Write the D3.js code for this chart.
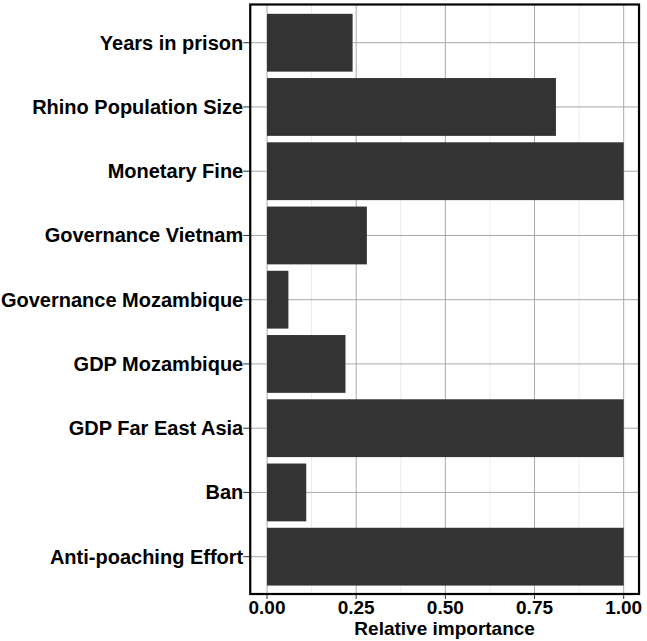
<!DOCTYPE html>
<html>
<head>
<meta charset="utf-8">
<script src="https://cdn.jsdelivr.net/npm/d3@7"></script>
<style>
  body { margin: 0; background: #fff; }
  svg { display: block; }
</style>
</head>
<body>
<div id="chart"></div>
<script>
var w = 647;
var h = 641;

var factors = ["Years in prison", "Rhino Population Size", "Monetary Fine", "Governance Vietnam",
               "Governance Mozambique", "GDP Mozambique", "GDP Far East Asia", "Ban", "Anti-poaching Effort"];
var importance = [0.24, 0.81, 1.00, 0.28, 0.06, 0.22, 1.00, 0.11, 1.00];
var xTicks = [0, 0.25, 0.5, 0.75, 1.0];
var xMinor = [0.125, 0.375, 0.625, 0.875];

var font = "Arial, 'Liberation Sans', sans-serif";

var x = d3.scaleLinear().domain([0, 1]).range([267, 623.7]);
var y = d3.scaleBand().domain(factors).range([10.6, 588.8]).paddingInner(0.1).paddingOuter(0.05);

// panel edges (note: "top" clashes with window.top)
var pLeft = x(-0.047), pRight = x(1.043);
var pTop = 4.5, pBottom = 594;

var svg = d3.select("#chart")
            .append("svg")
            .attr("width", w)
            .attr("height", h);

// minor grid
svg.selectAll("line.minor")
   .data(xMinor)
   .enter()
   .append("line")
   .attr("x1", function(d) { return x(d); })
   .attr("x2", function(d) { return x(d); })
   .attr("y1", pTop)
   .attr("y2", pBottom)
   .attr("stroke", "#ebebeb")
   .attr("stroke-width", 1);

// major grid
svg.selectAll("line.vmajor")
   .data(xTicks)
   .enter()
   .append("line")
   .attr("x1", function(d) { return x(d); })
   .attr("x2", function(d) { return x(d); })
   .attr("y1", pTop)
   .attr("y2", pBottom)
   .attr("stroke", "#a8a8a8")
   .attr("stroke-width", 1);

svg.selectAll("line.hmajor")
   .data(factors)
   .enter()
   .append("line")
   .attr("x1", pLeft)
   .attr("x2", pRight)
   .attr("y1", function(d) { return y(d) + y.bandwidth() / 2; })
   .attr("y2", function(d) { return y(d) + y.bandwidth() / 2; })
   .attr("stroke", "#a8a8a8")
   .attr("stroke-width", 1);

// bars
svg.selectAll("rect.bar")
   .data(importance)
   .enter()
   .append("rect")
   .attr("x", x(0))
   .attr("y", function(d, i) { return y(factors[i]); })
   .attr("width", function(d) { return x(d) - x(0); })
   .attr("height", y.bandwidth())
   .attr("fill", "#333333");

// panel border
svg.append("rect")
   .attr("x", pLeft)
   .attr("y", pTop)
   .attr("width", pRight - pLeft)
   .attr("height", pBottom - pTop)
   .attr("fill", "none")
   .attr("stroke", "#000")
   .attr("stroke-width", 2.2);

// y ticks + labels
svg.selectAll("line.ytick")
   .data(factors)
   .enter()
   .append("line")
   .attr("x1", pLeft - 7)
   .attr("x2", pLeft - 1)
   .attr("y1", function(d) { return y(d) + y.bandwidth() / 2; })
   .attr("y2", function(d) { return y(d) + y.bandwidth() / 2; })
   .attr("stroke", "#333")
   .attr("stroke-width", 1);

svg.selectAll("text.ylab")
   .data(factors)
   .enter()
   .append("text")
   .text(function(d) { return d; })
   .attr("text-anchor", "end")
   .attr("x", pLeft - 7)
   .attr("y", function(d) { return y(d) + y.bandwidth() / 2 + 7; })
   .attr("font-family", font)
   .attr("font-weight", "bold")
   .attr("font-size", "20px")
   .attr("fill", "#000");

// x ticks + labels
svg.selectAll("line.xtick")
   .data(xTicks)
   .enter()
   .append("line")
   .attr("x1", function(d) { return x(d); })
   .attr("x2", function(d) { return x(d); })
   .attr("y1", pBottom + 1)
   .attr("y2", pBottom + 5)
   .attr("stroke", "#333")
   .attr("stroke-width", 1);

svg.selectAll("text.xlab")
   .data(xTicks)
   .enter()
   .append("text")
   .text(function(d) { return d3.format(".2f")(d); })
   .attr("text-anchor", "middle")
   .attr("x", function(d) { return x(d); })
   .attr("y", 614)
   .attr("font-family", font)
   .attr("font-weight", "bold")
   .attr("font-size", "19px")
   .attr("fill", "#000");

svg.append("text")
   .text("Relative importance")
   .attr("text-anchor", "middle")
   .attr("x", (pLeft + pRight) / 2)
   .attr("y", 635)
   .attr("font-family", font)
   .attr("font-weight", "bold")
   .attr("font-size", "19px")
   .attr("fill", "#000");
</script>
</body>
</html>
